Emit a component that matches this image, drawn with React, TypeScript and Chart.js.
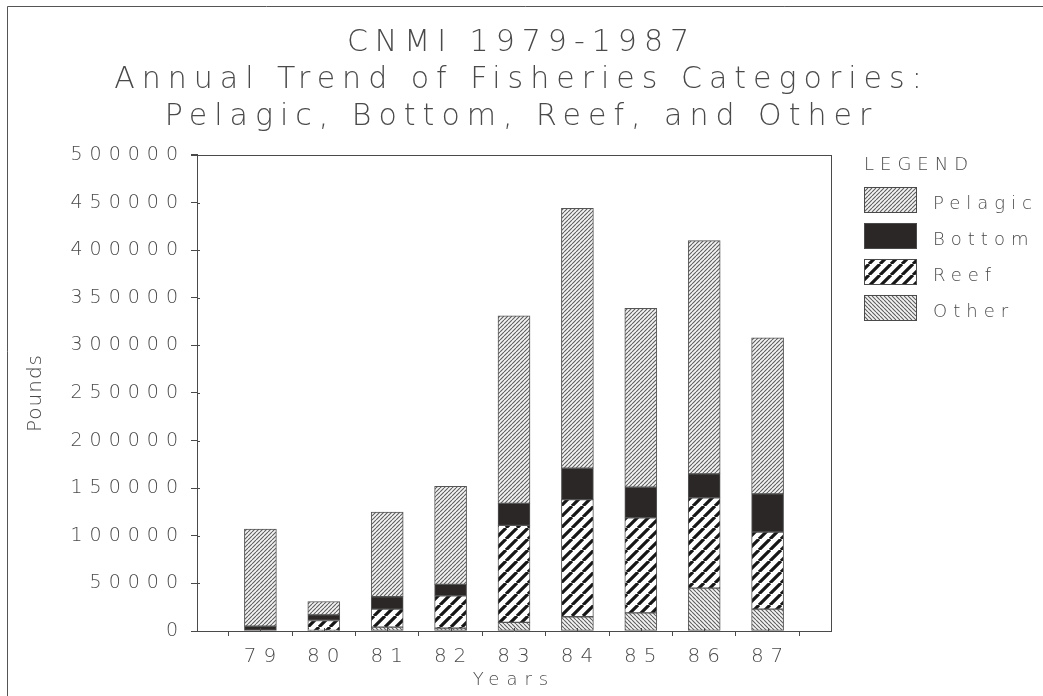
import React, { useEffect, useRef } from 'react';
import { Chart, registerables } from 'chart.js';

Chart.register(...registerables);

// ---- data ----
const years = ['79', '80', '81', '82', '83', '84', '85', '86', '87'];
const other = [0, 500, 4000, 3000, 9000, 15000, 19000, 45000, 23000];
const reef = [0, 10500, 19000, 34000, 102000, 123000, 100000, 95000, 81000];
const bottom = [5000, 6000, 13000, 12000, 23000, 33000, 32000, 25000, 40000];
const pelagic = [102000, 14000, 89000, 103000, 197000, 273000, 188000, 245000, 164000];
const yMax = 500000;
const yStep = 50000;
const titleLines = [
  'CNMI 1979-1987',
  'Annual Trend of Fisheries Categories:',
  'Pelagic, Bottom, Reef, and Other',
];
const xTitle = 'Years';
const yTitle = 'Pounds';
const legendTitle = 'LEGEND';
const legendOrder = ['Pelagic', 'Bottom', 'Reef', 'Other'];

const FONT = '"DejaVu Sans", sans-serif';
const W = '200';
const INK = '#4a4a4a';
const SPACING = '7px';

function hatch(size: number, dir: number, lw: number, color: string, bg: string) {
  const c = document.createElement('canvas');
  c.width = size;
  c.height = size;
  const g = c.getContext('2d')!;
  g.fillStyle = bg;
  g.fillRect(0, 0, size, size);
  g.strokeStyle = color;
  g.lineWidth = lw;
  g.beginPath();
  for (const o of [-size, 0, size]) {
    if (dir > 0) {
      g.moveTo(o, size);
      g.lineTo(o + size, 0);
    } else {
      g.moveTo(o, 0);
      g.lineTo(o + size, size);
    }
  }
  g.stroke();
  return g.createPattern(c, 'repeat')!;
}

const pad = (arr: number[]) => [null, ...arr, null];

export default function App() {
  const ref = useRef<HTMLCanvasElement>(null);

  useEffect(() => {
    const canvas = ref.current!;
    const fills: Record<string, any> = {
      Pelagic: hatch(4, 1, 1.1, '#5e5e5e', '#f4f4f4'),
      Bottom: '#2c2727',
      Reef: hatch(11, 1, 3.2, '#161616', '#ffffff'),
      Other: hatch(4, -1, 1.1, '#5e5e5e', '#f4f4f4'),
    };

    const spacingPlugin = {
      id: 'spacing',
      beforeUpdate(chart: any) {
        chart.ctx.letterSpacing = SPACING;
      },
      beforeDraw(chart: any) {
        const ctx = chart.ctx;
        ctx.letterSpacing = SPACING;
        ctx.save();
        ctx.fillStyle = '#ffffff';
        ctx.fillRect(0, 0, chart.width, chart.height);
        ctx.restore();
      },
    };

    const decorPlugin = {
      id: 'decor',
      afterDraw(chart: any) {
        const ctx = chart.ctx;
        const { left, right, top, bottom: bot } = chart.chartArea;
        const xs = chart.scales.x;
        const ys = chart.scales.y;
        ctx.save();
        ctx.strokeStyle = INK;
        ctx.lineWidth = 1;
        ctx.beginPath();
        ctx.moveTo(left - 6, Math.round(top) + 0.5);
        ctx.lineTo(right, Math.round(top) + 0.5);
        ctx.moveTo(Math.round(right) + 0.5, top);
        ctx.lineTo(Math.round(right) + 0.5, bot);
        ys.ticks.forEach((t: any) => {
          const y = Math.round(ys.getPixelForValue(t.value)) + 0.5;
          ctx.moveTo(left, y);
          ctx.lineTo(left + 3, y);
        });
        xs.ticks.forEach((_t: any, i: number) => {
          const x = Math.round(xs.getPixelForTick(i)) + 0.5;
          ctx.moveTo(x, bot);
          ctx.lineTo(x, bot - 3);
        });
        ctx.stroke();
        ctx.strokeStyle = '#555';
        ctx.beginPath();
        ctx.moveTo(7.5, chart.height);
        ctx.lineTo(7.5, 6.5);
        ctx.lineTo(chart.width, 6.5);
        ctx.stroke();

        ctx.letterSpacing = '1px';
        ctx.fillStyle = INK;
        ctx.font = `${W} 20px ${FONT}`;
        ctx.textAlign = 'center';
        ctx.textBaseline = 'middle';
        ctx.translate(36, (top + bot) / 2);
        ctx.rotate(-Math.PI / 2);
        ctx.fillText(yTitle, 0, 0);
        ctx.restore();

        ctx.save();
        ctx.fillStyle = INK;
        ctx.font = `${W} 18px ${FONT}`;
        ctx.textAlign = 'left';
        ctx.textBaseline = 'middle';
        const lx = right + 33;
        ctx.letterSpacing = '6px';
        ctx.fillText(legendTitle, lx, top + 10);
        legendOrder.forEach((name, i) => {
          const by = top + 32 + i * 36;
          ctx.fillStyle = fills[name];
          ctx.fillRect(lx, by, 52, 25);
          ctx.strokeStyle = INK;
          ctx.lineWidth = 1;
          ctx.strokeRect(lx + 0.5, by + 0.5, 52, 25);
          ctx.fillStyle = INK;
          ctx.letterSpacing = '6px';
          ctx.fillText(name, lx + 69, by + 17);
        });
        ctx.restore();
      },
    };

    const ds = (label: string, data: number[]) => ({
      label,
      data: pad(data),
      backgroundColor: fills[label],
      borderColor: '#555',
      borderWidth: 1,
      borderSkipped: false,
      barThickness: 32,
      yAxisID: 'y',
    });

    const chart = new Chart(canvas, {
      type: 'bar',
      data: {
        labels: ['', ...years, ''],
        datasets: [
          ds('Other', other),
          ds('Reef', reef),
          ds('Bottom', bottom),
          ds('Pelagic', pelagic),
        ],
      },
      options: {
        responsive: false,
        animation: false,
        layout: { padding: 0 },
        plugins: {
          legend: { display: false },
          tooltip: { enabled: false },
          title: {
            display: true,
            text: titleLines,
            color: INK,
            font: { family: FONT, size: 30, weight: W, lineHeight: 1.2333 },
            padding: { top: 25, bottom: 19 },
          },
        },
        scales: {
          x: {
            type: 'category',
            offset: false,
            stacked: true,
            grid: { drawOnChartArea: false, tickLength: 5, color: INK },
            border: { color: INK },
            ticks: {
              color: INK,
              font: { family: FONT, size: 20, weight: W },
              padding: 9,
              autoSkip: false,
              maxRotation: 0,
              labelOffset: 3,
            },
            title: {
              display: true,
              text: xTitle,
              color: INK,
              font: { family: FONT, size: 18, weight: W },
              padding: { top: 0, bottom: 5 },
            },
            afterFit: (s: any) => {
              s.height = 65;
            },
          },
          y: {
            stacked: true,
            min: 0,
            max: yMax,
            grid: { drawOnChartArea: false, tickLength: 6, color: INK },
            border: { color: INK },
            ticks: {
              stepSize: yStep,
              color: INK,
              font: { family: FONT, size: 19, weight: W },
              padding: 6,
              callback: (v: any) => String(v),
            },
            afterFit: (s: any) => {
              s.width = 197;
            },
          },
          legendSpace: {
            type: 'linear',
            position: 'right',
            display: true,
            grid: { display: false },
            border: { display: false },
            ticks: { display: false },
            afterFit: (s: any) => {
              s.width = 212;
            },
          },
        },
      },
      plugins: [spacingPlugin, decorPlugin],
    } as any);

    return () => chart.destroy();
  }, []);

  return (
    <div style={{ position: 'fixed', left: 0, top: 0, width: 1043, height: 696, background: '#fff' }}>
      <canvas ref={ref} width={1043} height={696} style={{ display: 'block' }} />
    </div>
  );
}
